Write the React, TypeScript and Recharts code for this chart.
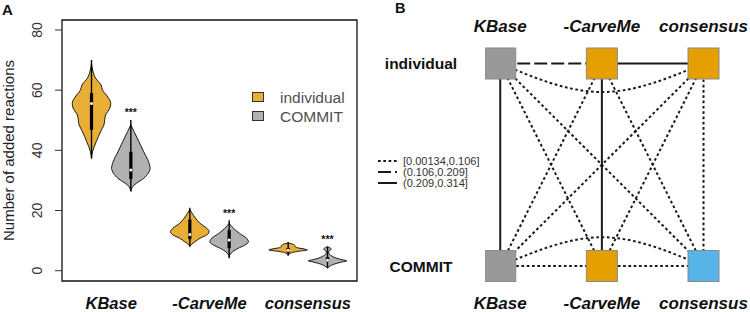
import React from "react";
import {
  ComposedChart,
  ScatterChart,
  Area,
  Line,
  Scatter,
  XAxis,
  YAxis,
  ReferenceArea,
  ReferenceLine,
  ReferenceDot,
  Legend,
} from "recharts";

const FONT = "'Liberation Sans', Arial, Helvetica, sans-serif";

// ---------- panel A: violins ----------
const groups = ["KBase", "-CarveMe", "consensus"];
const groupTicks = [1.5, 4, 6.5];
const methods = ["individual", "COMMIT"];
const violinAt = [1, 2, 3.5, 4.5, 6, 7];
const yTicks = [0, 20, 40, 60, 80];

// outline of each violin: [added reactions, relative half-width]
const kbaseIndividual = [
  [37.3, 0], [39.5, 0.05], [42.9, 0.25], [46.2, 0.47], [48.4, 0.64], [51.7, 0.73],
  [54.0, 0.95], [55.6, 1], [58.4, 0.77], [60.0, 0.57], [61.7, 0.5], [63.9, 0.22],
  [66.7, 0.06], [69.0, 0],
];
const kbaseCommit = [
  [26.5, 0], [27.4, 0.05], [28.5, 0.17], [29.6, 0.42], [30.7, 0.67], [32.4, 0.9],
  [34.0, 1], [36.2, 0.92], [39.5, 0.67], [42.9, 0.42], [46.2, 0.17], [48.5, 0],
];
const carvemeIndividual = [
  [8.2, 0], [8.8, 0.09], [9.6, 0.26], [10.8, 0.53], [11.9, 0.88], [13.0, 1],
  [14.1, 0.88], [15.75, 0.53], [17.4, 0.3], [19.1, 0.12], [20.3, 0],
];
const carvemeCommit = [
  [4.6, 0], [5.4, 0.05], [6.3, 0.18], [7.4, 0.45], [8.5, 0.81], [9.6, 1],
  [10.8, 0.9], [12.4, 0.54], [14.1, 0.22], [15.8, 0],
];
const consensusIndividual = [
  [5.2, 0], [5.8, 0.12], [6.2, 0.3], [6.6, 0.7], [6.9, 1], [7.2, 0.85],
  [7.6, 0.5], [8.0, 0.36], [8.5, 0.33], [8.9, 0.2], [9.2, 0],
];
const consensusCommit = [
  [0.9, 0], [1.3, 0.08], [1.8, 0.2], [2.4, 0.45], [2.9, 0.75], [3.3, 1],
  [3.6, 0.8], [4.2, 0.45], [4.8, 0.25], [5.4, 0.1], [6.2, 0.06], [6.8, 0.12],
  [7.2, 0.2], [7.6, 0.12], [8.0, 0],
];

// min, q1, median, q3, max
const kbaseIndividualBox = [37.3, 46.8, 55.6, 59.0, 70.0];
const kbaseCommitBox = [26.3, 30.5, 33.5, 39.5, 50.1];
const carvemeIndividualBox = [8.0, 10.5, 12.0, 17.0, 20.9];
const carvemeCommitBox = [4.1, 7.5, 10.2, 13.5, 16.8];
const consensusIndividualBox = [5.0, 6.0, 6.8, 7.5, 9.5];
const consensusCommitBox = [1.0, 3.0, 3.5, 4.5, 8.0];

const sigAt = [2, 4.5, 7];
const sigY = [53.1, 19.8, 10.9];
const sigLabel = "***";

const methodFill = ["#E9AE35", "#B1B1B1"];
const X_DOMAIN = [0.25, 7.75];
const Y_DOMAIN = [-3.42, 83.32];
const HALF = 0.49;

const violins = [
  { profile: kbaseIndividual, box: kbaseIndividualBox, method: 0 },
  { profile: kbaseCommit, box: kbaseCommitBox, method: 1 },
  { profile: carvemeIndividual, box: carvemeIndividualBox, method: 0 },
  { profile: carvemeCommit, box: carvemeCommitBox, method: 1 },
  { profile: consensusIndividual, box: consensusIndividualBox, method: 0 },
  { profile: consensusCommit, box: consensusCommitBox, method: 1 },
];

// one block of rows per violin, so each series is a single unbroken run
const violinRows = violins.flatMap((v, i) =>
  v.profile.map(([level, w]) => ({
    level,
    [`v${i}`]: [violinAt[i] - w * HALF, violinAt[i] + w * HALF],
  }))
);

// ---------- panel B: network ----------
const nodeFill: Record<string, string> = {
  "KBase.individual": "#999999",
  "-CarveMe.individual": "#E69F00",
  "consensus.individual": "#E69F00",
  "KBase.COMMIT": "#999999",
  "-CarveMe.COMMIT": "#E69F00",
  "consensus.COMMIT": "#56B4E9",
};

const edges: [string, string, number][] = [
  ["KBase.individual", "-CarveMe.individual", 0.16],
  ["-CarveMe.individual", "consensus.individual", 0.26],
  ["KBase.individual", "consensus.individual", 0.05],
  ["KBase.individual", "KBase.COMMIT", 0.29],
  ["-CarveMe.individual", "-CarveMe.COMMIT", 0.31],
  ["consensus.individual", "consensus.COMMIT", 0.02],
  ["KBase.individual", "-CarveMe.COMMIT", 0.06],
  ["KBase.individual", "consensus.COMMIT", 0.03],
  ["-CarveMe.individual", "KBase.COMMIT", 0.07],
  ["-CarveMe.individual", "consensus.COMMIT", 0.04],
  ["consensus.individual", "KBase.COMMIT", 0.05],
  ["consensus.individual", "-CarveMe.COMMIT", 0.08],
  ["KBase.COMMIT", "-CarveMe.COMMIT", 0.09],
  ["-CarveMe.COMMIT", "consensus.COMMIT", 0.1],
  ["KBase.COMMIT", "consensus.COMMIT", 0.00134],
];

const binBreaks = [0.106, 0.209, 0.314];
const binLabels = ["[0.00134,0.106]", "(0.106,0.209]", "(0.209,0.314]"];
const binDash = ["2.7 2.6", "13 4", undefined];
const skipBend: Record<number, number> = { 1: -0.141, 0: 0.142 };

const nodePoints = methods.flatMap((m, mi) =>
  groups.map((g, gi) => ({ id: `${g}.${m}`, x: gi, y: 1 - mi }))
);
const nodeById = Object.fromEntries(nodePoints.map((n) => [n.id, n]));

const edgeSeries = edges.map(([a, b, w]) => {
  const p = nodeById[a];
  const q = nodeById[b];
  const bin = binBreaks.findIndex((br) => w <= br);
  const curved = p.y === q.y && Math.abs(p.x - q.x) === 2;
  const pts = curved
    ? [{ x: p.x, y: p.y }, { x: (p.x + q.x) / 2, y: p.y + skipBend[p.y] }, { x: q.x, y: q.y }]
    : [{ x: p.x, y: p.y }, { x: q.x, y: q.y }];
  return { key: `${a}-${b}`, pts, bin, curved };
});

// ---------- ticks & legends ----------
const renderGroupTick = ({ x, payload }: any) => (
  <text x={x} y={308.5} textAnchor="middle" fontSize={16.5} fontWeight="bold" fontStyle="italic" fill="#111">
    {groups[groupTicks.indexOf(payload.value)]}
  </text>
);

const renderCountTick = ({ y, payload }: any) => (
  <text x={42} y={y} transform={`rotate(-90 42 ${y})`} textAnchor="middle" fontSize={14} fill="#333">
    {payload.value}
  </text>
);

const toolTick = (baseline: number) => ({ x, payload }: any) => (
  <text x={x} y={baseline} textAnchor="middle" fontSize={17} fontWeight="bold" fontStyle="italic" fill="#111">
    {groups[payload.value]}
  </text>
);

const renderMethodTick = ({ y, payload }: any) => (
  <text x={46} y={y + 6} textAnchor="middle" fontSize={15.5} fontWeight="bold" fill="#111">
    {methods[1 - payload.value]}
  </text>
);

const MethodLegend = () => (
  <div style={{ fontSize: 15.5, color: "#505050", lineHeight: "19px", fontFamily: FONT }}>
    {methods.map((m, i) => (
      <div key={m} style={{ display: "flex", alignItems: "center", whiteSpace: "nowrap" }}>
        <span
          style={{
            display: "inline-block",
            width: 10,
            height: 8,
            background: methodFill[i],
            border: "1px solid #333",
            marginRight: 16,
          }}
        />
        {m}
      </div>
    ))}
  </div>
);

const EdgeLegend = () => (
  <svg width={125} height={36} style={{ display: "block" }}>
    {binLabels.map((label, i) => (
      <g key={label}>
        <line x1={0} x2={19} y1={5 + i * 11} y2={5 + i * 11} stroke="#1a1a1a" strokeWidth={2} strokeDasharray={binDash[i]} />
        <text x={25} y={9 + i * 11} fontSize={11} fill="#333" fontFamily={FONT}>
          {label}
        </text>
      </g>
    ))}
  </svg>
);

function ViolinPanel() {
  return (
    <ComposedChart
      layout="vertical"
      width={375}
      height={312}
      data={violinRows}
      margin={{ top: 20, right: 18, bottom: 0, left: 0 }}
    >
      <XAxis
        type="number"
        domain={X_DOMAIN}
        ticks={groupTicks}
        interval={0}
        allowDataOverflow
        axisLine={false}
        tickLine={false}
        height={31}
        tick={renderGroupTick}
      />
      <YAxis
        type="number"
        dataKey="level"
        domain={Y_DOMAIN}
        ticks={yTicks}
        interval={0}
        reversed
        allowDataOverflow
        width={62}
        tickSize={7}
        axisLine={false}
        tickLine={{ stroke: "#333" }}
        tick={renderCountTick}
        label={{
          value: "Number of added reactions",
          angle: -90,
          position: "center",
          dx: -22,
          fill: "#222",
          fontSize: 15,
        }}
      />
      <ReferenceArea
        x1={X_DOMAIN[0]}
        x2={X_DOMAIN[1]}
        y1={Y_DOMAIN[0]}
        y2={Y_DOMAIN[1]}
        fill="none"
        stroke="#111"
        strokeWidth={1.3}
        ifOverflow="visible"
      />
      {violins.map((v, i) => (
        <Area
          key={`a${i}`}
          dataKey={`v${i}`}
          type="monotone"
          fill={methodFill[v.method]}
          fillOpacity={1}
          stroke="none"
          isAnimationActive={false}
        />
      ))}
      {violins.flatMap((v, i) =>
        [0, 1].map((side) => (
          <Line
            key={`l${i}-${side}`}
            dataKey={(r: any) => (r[`v${i}`] ? r[`v${i}`][side] : undefined)}
            type="monotone"
            stroke="#1a1a1a"
            strokeWidth={1}
            dot={false}
            activeDot={false}
            isAnimationActive={false}
          />
        ))
      )}
      {violins.map((v, i) => (
        <ReferenceLine
          key={`w${i}`}
          segment={[{ x: violinAt[i], y: v.box[0] }, { x: violinAt[i], y: v.box[4] }]}
          stroke="#000"
          strokeWidth={1.4}
        />
      ))}
      {violins.map((v, i) => (
        <ReferenceLine
          key={`b${i}`}
          segment={[{ x: violinAt[i], y: v.box[1] }, { x: violinAt[i], y: v.box[3] }]}
          stroke="#000"
          strokeWidth={3.2}
        />
      ))}
      {violins.map((v, i) => (
        <ReferenceDot key={`m${i}`} x={violinAt[i]} y={v.box[2]} r={1.5} fill="#fff" stroke="none" />
      ))}
      {sigAt.map((at, i) => (
        <ReferenceDot
          key={`s${i}`}
          x={at}
          y={sigY[i]}
          r={1}
          shape={(p: any) => (
            <text x={p.cx} y={p.cy + 5.5} textAnchor="middle" fontSize={10.5} fontWeight="bold" fill="#111">
              {sigLabel}
            </text>
          )}
        />
      ))}
      <Legend
        layout="vertical"
        align="center"
        verticalAlign="middle"
        wrapperStyle={{ left: 252, top: 87.5, width: 120 }}
        content={<MethodLegend />}
      />
    </ComposedChart>
  );
}

function NetworkPanel() {
  const xDomain = [-0.15, 2.3];
  return (
    <ScatterChart width={375} height={312} margin={{ top: 0, right: 16, bottom: 0, left: 0 }}>
      <XAxis
        xAxisId="top"
        orientation="top"
        type="number"
        dataKey="x"
        domain={xDomain}
        ticks={[0, 1, 2]}
        interval={0}
        allowDataOverflow
        height={40}
        axisLine={false}
        tickLine={false}
        tick={toolTick(32)}
      />
      <XAxis
        xAxisId="bottom"
        orientation="bottom"
        type="number"
        dataKey="x"
        domain={xDomain}
        ticks={[0, 1, 2]}
        interval={0}
        allowDataOverflow
        height={22}
        axisLine={false}
        tickLine={false}
        tick={toolTick(308.5)}
      />
      <YAxis
        type="number"
        dataKey="y"
        domain={[-0.1185, 1.116]}
        ticks={[0, 1]}
        interval={0}
        allowDataOverflow
        width={110}
        axisLine={false}
        tickLine={false}
        tick={renderMethodTick}
      />
      {edgeSeries.map((e) => (
        <Scatter
          key={e.key}
          xAxisId="bottom"
          data={e.pts}
          line={{ stroke: "#1a1a1a", strokeWidth: 2, strokeDasharray: binDash[e.bin] }}
          lineJointType={e.curved ? "natural" : "linear"}
          shape={() => <g />}
          isAnimationActive={false}
        />
      ))}
      <Scatter
        xAxisId="bottom"
        data={nodePoints}
        isAnimationActive={false}
        shape={(p: any) => (
          <rect
            x={p.cx - 15.5}
            y={p.cy - 15.5}
            width={31}
            height={31}
            fill={nodeFill[p.payload.id]}
            stroke="#8a8a8a"
            strokeWidth={1}
          />
        )}
      />
      <Legend
        layout="vertical"
        align="center"
        verticalAlign="middle"
        wrapperStyle={{ left: 3, top: 155.5, width: 125 }}
        content={<EdgeLegend />}
      />
    </ScatterChart>
  );
}

const panelLabel = (left: number, top: number, size: number): React.CSSProperties => ({
  position: "absolute",
  left,
  top,
  fontSize: size,
  lineHeight: `${size + 2}px`,
  fontWeight: "bold",
  color: "#111",
});

export default function App() {
  return (
    <div
      style={{
        position: "fixed",
        left: 0,
        top: 0,
        width: 750,
        height: 312,
        background: "#fff",
        fontFamily: FONT,
        overflow: "hidden",
      }}
    >
      <div style={{ position: "absolute", left: 0, top: 0 }}>
        <ViolinPanel />
      </div>
      <div style={{ position: "absolute", left: 375, top: 0 }}>
        <NetworkPanel />
      </div>
      <div style={panelLabel(2, 1, 15)}>A</div>
      <div style={panelLabel(395, 0, 14.5)}>B</div>
    </div>
  );
}
